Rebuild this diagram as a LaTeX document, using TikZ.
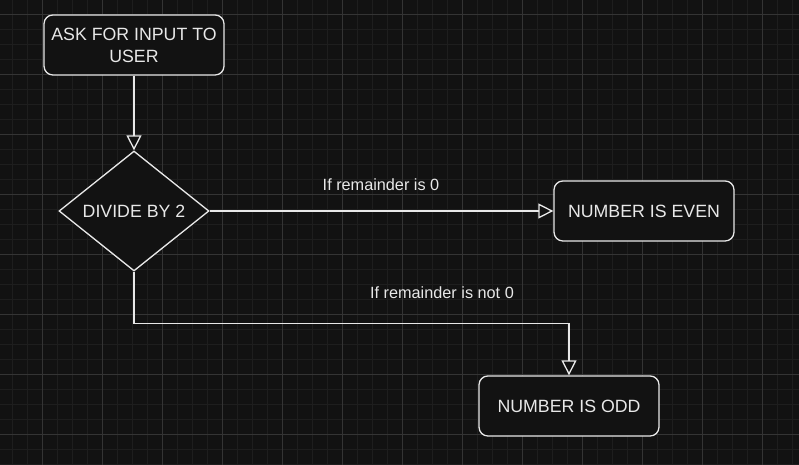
\documentclass[tikz,border=0pt]{standalone}
\usepackage{fontspec}
\setmainfont{Liberation Sans}
\usepackage{xcolor}
\usetikzlibrary{arrows.meta,positioning,shapes.geometric,calc}
\definecolor{canvasbg}{RGB}{18,18,18}
\definecolor{gridminor}{RGB}{30,30,30}
\definecolor{gridmajor}{RGB}{52,52,52}
\definecolor{inkwhite}{RGB}{232,232,232}

\begin{document}
\begin{tikzpicture}[x=0.02cm,y=-0.02cm,
    flowbox/.style={draw=inkwhite,fill=canvasbg,line width=0.75pt,rounded corners=5pt,
      minimum width=3.6cm,minimum height=1.2cm,align=center,text=inkwhite,
      font=\fontsize{10.1pt}{12.5pt}\selectfont},
    decide/.style={diamond,draw=inkwhite,fill=canvasbg,line width=0.75pt,inner sep=0pt,
      minimum width=3cm,minimum height=2.4cm,text=inkwhite,
      font=\fontsize{10.1pt}{12.5pt}\selectfont},
    edgelabel/.style={text=inkwhite,font=\fontsize{9.25pt}{11pt}\selectfont},
    flow/.style={draw=inkwhite,line width=0.75pt,
      -{Triangle[open,length=8.5pt,width=8.5pt,fill=canvasbg]}}]
  % background and grid
  \fill[canvasbg] (0,0) rectangle (799,465);
  \useasboundingbox (0,0) rectangle (799,465);
  \foreach \gx in {0,...,53}
    \draw[gridminor,line width=0.6pt] ({-2.5+15*\gx},0) -- ({-2.5+15*\gx},465);
  \foreach \gy in {0,...,31}
    \draw[gridminor,line width=0.6pt] (0,{-0.7+15*\gy}) -- (799,{-0.7+15*\gy});
  \foreach \gx in {0,...,13}
    \draw[gridmajor,line width=0.6pt] ({-17.5+60*\gx},0) -- ({-17.5+60*\gx},465);
  \foreach \gy in {0,...,8}
    \draw[gridmajor,line width=0.6pt] (0,{14.3+60*\gy}) -- (799,{14.3+60*\gy});
  % steps of the flow
  \node[flowbox] (ask) at (134,45) {ASK FOR INPUT TO\\USER};
  \node[decide] (divide) at (134,211) {DIVIDE BY 2};
  \node[flowbox] (even) at (644,211) {NUMBER IS EVEN};
  \node[flowbox] (odd) at (569,406) {NUMBER IS ODD};
  % connectors
  \draw[flow] (ask.south) -- (divide.north);
  \draw[flow] (divide.east) -- (even.west);
  \draw[flow] (divide.south) -- ++(0,52) -| (odd.north);
  % branch labels
  \node[edgelabel] (lbleven) at (381,185) {If remainder is 0};
  \node[edgelabel] (lblodd) at (442,293) {If remainder is not 0};
\end{tikzpicture}
\end{document}
